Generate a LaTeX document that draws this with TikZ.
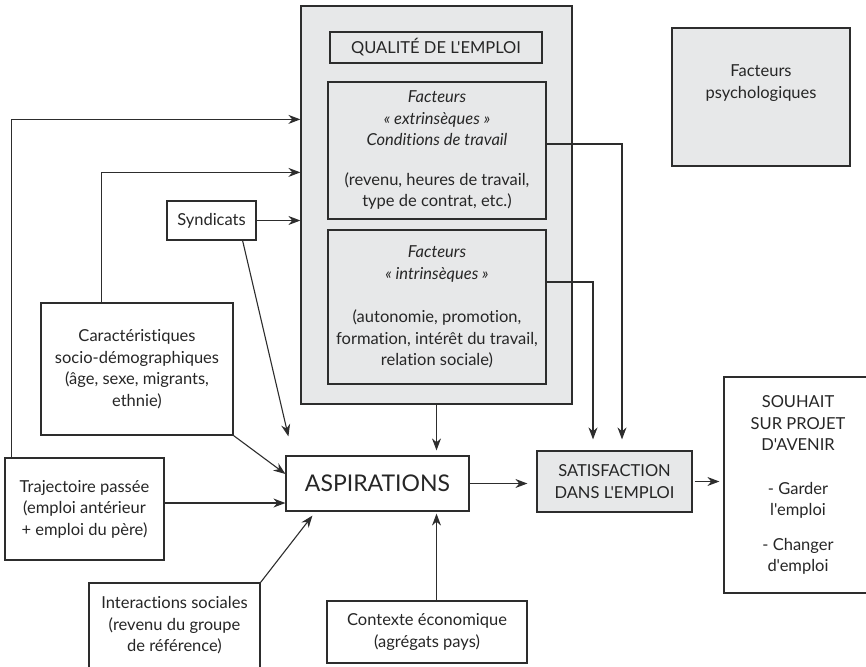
\documentclass[tikz,border=0pt]{standalone}
\usepackage{fontspec}
\setmainfont{Lato}[Ligatures={TeXOff,CommonOff}]
\usepackage{tikz}
\usetikzlibrary{arrows.meta, positioning}
\definecolor{cline}{RGB}{45,45,45}
\definecolor{cfill}{RGB}{231,232,233}
\newcommand{\fsmain}{\fontsize{16.5}{21.5}\selectfont}
\newcommand{\fsbig}{\fontsize{23}{26}\selectfont}
\tikzset{
  bx/.style={rectangle, draw=cline, line width=1.2pt, fill=white,
             text=black!85, font=\fsmain, align=center, inner sep=0pt},
  gbx/.style={bx, fill=cfill},
  arr/.style={-{Stealth[length=12pt,width=9pt]}, line width=1.1pt, color=cline},
}

\begin{document}
\begin{tikzpicture}[x=1pt, y=-1pt]
  \useasboundingbox (0,0) rectangle (866,666);
  \clip (0,0) rectangle (866,666);

  % ── Qualité de l'emploi ────────────────────────────────────────────────────
  \node[gbx, minimum width=271pt, minimum height=398pt] at (436.5,205) (qual) {};
  \node[gbx, minimum width=212pt, minimum height=31pt] at (436,47.5) (qtitle)
      {QUALITÉ DE L'EMPLOI};
  \node[gbx, minimum width=218pt, minimum height=137pt] at (437,150.5) (extr)
      {\textit{Facteurs}\\\textit{« extrinsèques »}\\\textit{Conditions de travail}\\[18pt]
       (revenu, heures de travail,\\type de contrat, etc.)};
  \node[gbx, minimum width=218pt, minimum height=154pt] at (437,307) (intr)
      {\textit{Facteurs}\\\textit{« intrinsèques »}\\[22pt]
       (autonomie, promotion,\\formation, intérêt du travail,\\relation sociale)};

  % ── Facteurs psychologiques ────────────────────────────────────────────────
  \node[gbx, minimum width=178pt, minimum height=138pt] at (761,97) (psych)
      {Facteurs\\psychologiques\\[9pt]~};

  % ── Déterminants ───────────────────────────────────────────────────────────
  \node[bx, minimum width=89pt, minimum height=39pt] at (211.5,220.5) (synd)
      {Syndicats};
  \node[bx, minimum width=192pt, minimum height=132pt] at (137,369) (carac)
      {Caractéristiques\\socio-démographiques\\(âge, sexe, migrants,\\ethnie)};
  \node[bx, minimum width=159pt, minimum height=102pt] at (84.5,509) (traj)
      {Trajectoire passée\\(emploi antérieur\\+ emploi du père)};
  \node[bx, minimum width=171pt, minimum height=85pt] at (174.5,625.5) (inter)
      {Interactions sociales\\(revenu du groupe\\de référence)};
  \node[bx, minimum width=200pt, minimum height=62pt] at (427,632) (ctx)
      {Contexte économique\\(agrégats pays)};

  % ── Aspirations, satisfaction, souhait ─────────────────────────────────────
  \node[bx, minimum width=183pt, minimum height=55pt, font=\fsbig] at (377.5,483.5) (asp)
      {ASPIRATIONS};
  \node[gbx, minimum width=155pt, minimum height=61pt] at (614.5,481.5) (satis)
      {SATISFACTION\\DANS L'EMPLOI};
  \node[bx, minimum width=148pt, minimum height=216pt] at (798,485) (souh)
      {SOUHAIT\\SUR PROJET\\D'AVENIR\\[22pt]- Garder\\l'emploi\\[13pt]- Changer\\d'emploi};

  % ── Arrows ─────────────────────────────────────────────────────────────────
  \draw[arr] ([xshift=7pt]traj.north west) |- ([yshift=-114pt]qual.north west);
  \draw[arr] ([xshift=61pt]carac.north west) |- ([yshift=-167pt]qual.north west);
  \draw[arr] (synd.east) -- (synd.east -| qual.west);
  \draw[arr] ([xshift=-14pt]synd.south east) -- ([xshift=3pt,yshift=19pt]asp.north west);
  \draw[arr] (carac.south east) -- ([yshift=9.5pt]asp.west);
  \draw[arr] ([yshift=6pt]traj.east) -- ([yshift=6pt]traj.east -| asp.west);
  \draw[arr] (inter.north east) -- ([xshift=27pt,yshift=-4pt]asp.south west);
  \draw[arr, shorten >=5pt] (qual.south) -- (qual.south |- asp.north);
  \draw[arr, shorten >=2pt] (ctx.north -| qual.south) -- (qual.south |- asp.south);
  \draw[arr, shorten >=9pt] (asp.east) -- (asp.east -| satis.west);
  \draw[arr, shorten <=2pt, shorten >=4pt] (satis.east) -- (satis.east -| souh.west);
  \draw[arr, shorten >=11pt] ([yshift=6.5pt]extr.east) -| ([xshift=7.5pt]satis.north);
  \draw[arr, shorten >=11pt] ([yshift=25pt]intr.east) -| ([xshift=-21.5pt]satis.north);
\end{tikzpicture}
\end{document}
